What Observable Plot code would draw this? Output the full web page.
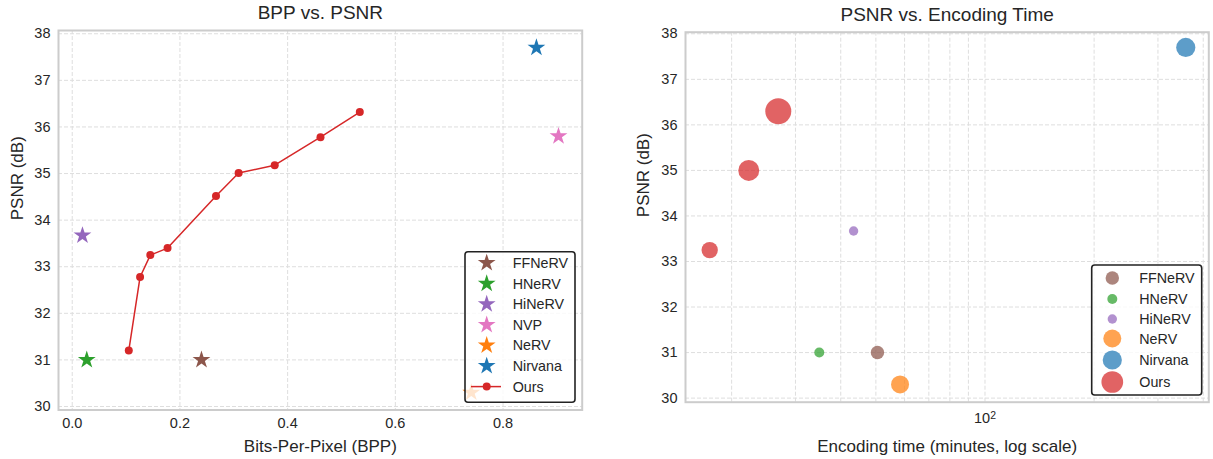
<!DOCTYPE html>
<html>
<head>
<meta charset="utf-8">
<script src="https://cdn.jsdelivr.net/npm/d3@7"></script>
<script src="https://cdn.jsdelivr.net/npm/@observablehq/plot@0.6"></script>
<style>
  body { margin: 0; background: #ffffff; }
  #wrap { position: relative; width: 1213px; height: 459px; overflow: hidden; font-family: "Liberation Sans", Arial, sans-serif; }
  #wrap > svg { position: absolute; top: 0; }
</style>
</head>
<body>
<div id="wrap"></div>
<script>
// ---------- data: BPP vs PSNR ----------
const bppMethods = ["FFNeRV", "HNeRV", "HiNeRV", "NVP", "NeRV", "Nirvana"];
const bppValues  = [0.240, 0.027, 0.019, 0.903, 0.741, 0.862];
const bppPsnr    = [31.00, 31.00, 33.67, 35.80, 30.30, 37.70];
const oursBpp    = [0.105, 0.126, 0.145, 0.177, 0.267, 0.309, 0.376, 0.461, 0.534];
const oursPsnr   = [31.20, 32.78, 33.25, 33.40, 34.52, 35.01, 35.18, 35.78, 36.32];
const bppTicks   = [0.0, 0.2, 0.4, 0.6, 0.8];
const psnrTicks  = [30, 31, 32, 33, 34, 35, 36, 37, 38];

// ---------- data: PSNR vs encoding time ----------
const timeMethods = ["FFNeRV", "HNeRV", "HiNeRV", "NeRV", "Nirvana", "Ours", "Ours", "Ours"];
const timeMinutes = [50.5, 34.9, 43.4, 58.3, 358, 17.4, 22.3, 26.9];
const timePsnr    = [31.00, 31.00, 33.67, 30.30, 37.70, 33.25, 35.00, 36.30];
const timeBubble  = [45, 25, 22, 81, 92, 67, 110, 169];   // relative bubble area
const timeLegendOrder = ["FFNeRV", "HNeRV", "HiNeRV", "NeRV", "Nirvana", "Ours"];
const timeMajorTicks = [100];
const timeGridTicks = [20, 30, 40, 50, 60, 70, 80, 90, 100, 200, 300, 400];

const colors = {
  FFNeRV: "#8c564b", HNeRV: "#2ca02c", HiNeRV: "#9467bd", NVP: "#e377c2",
  NeRV: "#ff7f0e", Nirvana: "#1f77b4", Ours: "#d62728"
};

const FONT = "'Liberation Sans', Arial, sans-serif";
const TXT = "#262626";
const gridStyle = { stroke: "#dedede", strokeOpacity: 1, strokeWidth: 1, strokeDasharray: "4,2" };

const stars = bppMethods.map((m, i) => ({ method: m, x: bppValues[i], y: bppPsnr[i] }));
const ours = oursBpp.map((x, i) => ({ x, y: oursPsnr[i] }));
const timeData = timeMethods.map((m, i) => ({ method: m, t: timeMinutes[i], y: timePsnr[i], a: timeBubble[i] }));

const STAR_R = 5.6;
const TITLE = 19, LABEL = 17, TICK = 14.5;

const left = Plot.plot({
  width: 606, height: 459,
  marginLeft: 58, marginRight: 24.3, marginTop: 30, marginBottom: 49.5,
  style: { fontFamily: FONT, color: TXT, background: "transparent", overflow: "visible" },
  x: { domain: [-0.0255, 0.947] },
  y: { domain: [29.925, 38.07] },
  marks: [
    Plot.gridX(bppTicks, gridStyle),
    Plot.gridY(psnrTicks, gridStyle),
    Plot.frame({ stroke: "#cccccc", strokeWidth: 2 }),
    Plot.axisX(bppTicks, { anchor: "bottom", tickSize: 0, tickPadding: 8, fontSize: TICK, tickFormat: d => d.toFixed(1), label: null }),
    Plot.axisY(psnrTicks, { anchor: "left", tickSize: 0, tickPadding: 8, fontSize: TICK, label: null }),
    Plot.dot(stars, { x: "x", y: "y", symbol: "star", r: STAR_R, fill: d => colors[d.method], stroke: "none" }),
    Plot.line(ours, { x: "x", y: "y", stroke: colors.Ours, strokeWidth: 1.5 }),
    Plot.dot(ours, { x: "x", y: "y", r: 4, fill: colors.Ours, stroke: "none" }),
    Plot.text(["BPP vs. PSNR"], { frameAnchor: "top", lineAnchor: "middle", dy: -18, fontSize: TITLE }),
    Plot.text(["Bits-Per-Pixel (BPP)"], { frameAnchor: "bottom", lineAnchor: "middle", dy: 36.5, fontSize: LABEL }),
    Plot.text(["PSNR (dB)"], { frameAnchor: "left", lineAnchor: "middle", dx: -41, rotate: -90, fontSize: LABEL })
  ]
});
left.style.left = "0px";

const right = Plot.plot({
  width: 607, height: 459,
  marginLeft: 79, marginRight: 4.7, marginTop: 31.7, marginBottom: 57.3,
  style: { fontFamily: FONT, color: TXT, background: "transparent", overflow: "visible" },
  x: { type: "log", domain: [14.92, 414.4] },
  y: { domain: [29.91, 38.035] },
  r: { type: "sqrt", domain: [0, 169], range: [0, 13] },
  color: { type: "identity" },
  marks: [
    Plot.gridX(timeGridTicks, gridStyle),
    Plot.gridY(psnrTicks, gridStyle),
    Plot.frame({ stroke: "#cccccc", strokeWidth: 2 }),
    Plot.axisX(timeMajorTicks, { anchor: "bottom", tickSize: 0, tickPadding: 11, fontSize: TICK, tickFormat: d => "10²", label: null }),
    Plot.axisY(psnrTicks, { anchor: "left", tickSize: 0, tickPadding: 8, fontSize: TICK, label: null }),
    Plot.dot(timeData, { x: "t", y: "y", r: "a", fill: d => colors[d.method], fillOpacity: 0.72, stroke: "none" }),
    Plot.text(["PSNR vs. Encoding Time"], { frameAnchor: "top", lineAnchor: "middle", dy: -17.7, fontSize: TITLE }),
    Plot.text(["Encoding time (minutes, log scale)"], { frameAnchor: "bottom", lineAnchor: "middle", dy: 44.3, fontSize: LABEL }),
    Plot.text(["PSNR (dB)"], { frameAnchor: "left", lineAnchor: "middle", dx: -42, rotate: -90, fontSize: LABEL })
  ]
});
right.style.left = "606px";

// render the power-of-ten tick as "10" with a raised exponent
d3.select(right).selectAll("text").each(function () {
  const t = d3.select(this);
  if (t.text() === "10²" && this.children.length === 0) {
    t.text("10");
    t.append("tspan").attr("dy", "-0.45em").attr("font-size", "0.72em").text("2");
  }
});

const wrap = document.getElementById("wrap");
wrap.appendChild(left);
wrap.appendChild(right);

// ---------- legends (overlay) ----------
const rScale = right.scale("r");
const overlay = d3.create("svg")
  .attr("width", 1213).attr("height", 459)
  .style("position", "absolute").style("left", "0px").style("top", "0px")
  .style("font-family", FONT);

function box(g, x0, y0, x1, y1) {
  g.append("rect").attr("x", x0).attr("y", y0).attr("width", x1 - x0).attr("height", y1 - y0)
    .attr("rx", 3).attr("fill", "#ffffff").attr("fill-opacity", 0.8)
    .attr("stroke", "#222222").attr("stroke-width", 1.6);
}

// left legend
const lg = overlay.append("g");
box(lg, 465, 251.7, 575, 402.3);
const leftEntries = [...bppMethods, "Ours"];
const starPath = d3.symbol(d3.symbolStar, Math.PI * STAR_R * STAR_R)();
leftEntries.forEach((m, i) => {
  const y = 263 + i * 20.6;
  if (m === "Ours") {
    lg.append("line").attr("x1", 471).attr("x2", 501).attr("y1", y).attr("y2", y)
      .attr("stroke", colors.Ours).attr("stroke-width", 1.5);
    lg.append("circle").attr("cx", 486.7).attr("cy", y).attr("r", 4).attr("fill", colors.Ours);
  } else {
    lg.append("path").attr("d", starPath).attr("transform", `translate(486.7,${y})`).attr("fill", colors[m]);
  }
  lg.append("text").attr("x", 512.7).attr("y", y).attr("dy", "0.35em")
    .attr("font-size", 14.3).attr("fill", TXT).text(m);
});

// right legend
const rg = overlay.append("g");
box(rg, 1091.7, 265, 1201.7, 395);
const rightRows = [278, 299, 319, 338.5, 360, 382];
timeLegendOrder.forEach((m, i) => {
  const areas = timeData.filter(d => d.method === m).map(d => d.a);
  const a = (d3.max(areas) + d3.min(areas)) / 2;
  const y = rightRows[i];
  rg.append("circle").attr("cx", 1112.3).attr("cy", y).attr("r", rScale.apply(a))
    .attr("fill", colors[m]).attr("fill-opacity", 0.72);
  rg.append("text").attr("x", 1139.3).attr("y", y).attr("dy", "0.35em")
    .attr("font-size", 14.3).attr("fill", TXT).text(m);
});

wrap.appendChild(overlay.node());
</script>
</body>
</html>
